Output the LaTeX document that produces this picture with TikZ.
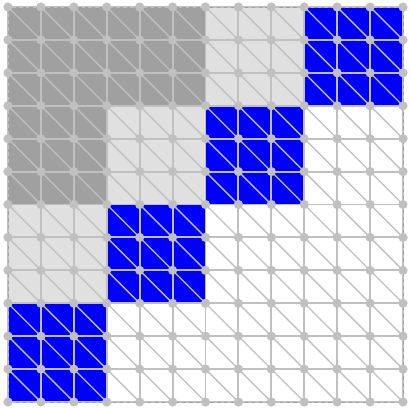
\documentclass[tikz,border=0pt]{standalone}
\usetikzlibrary{backgrounds}
\definecolor{meshline}{RGB}{192,192,192}
\definecolor{darkblock}{RGB}{160,160,160}
\definecolor{lightblock}{RGB}{224,224,224}
\definecolor{diagblock}{RGB}{0,0,255}
\tikzset{
  gridline/.style={draw=meshline,line width=1.7pt},
  diagline/.style={draw=meshline,line width=1.2pt},
  meshdot/.style={fill=meshline},
}
\begin{document}
\begin{tikzpicture}[x=1cm,y=1cm]
\useasboundingbox (-0.243,-0.152) rectangle (12.213,12.213);
% blocks
\fill[darkblock] (0,9) rectangle (6,12);
\fill[darkblock] (0,6) rectangle (3,9);
\fill[lightblock] (6,9) rectangle (9,12);
\fill[lightblock] (3,6) rectangle (6,9);
\fill[lightblock] (0,3) rectangle (3,6);
\foreach \b in {0,3,6,9}
  \fill[diagblock] (\b,\b) rectangle (\b+3,\b+3);
% mesh
\foreach \x in {0,...,11}
  \foreach \y in {0,...,11}
    \draw[diagline] (\x,\y+1) -- (\x+1,\y);
\foreach \k in {0,...,12} {
  \draw[gridline] (\k,0) -- (\k,12);
  \draw[gridline] (0,\k) -- (12,\k);
}
\draw[darkblock,line width=0.6pt,dashed] (0,0) rectangle (12,12);
\foreach \x in {0,...,12}
  \foreach \y in {0,...,12}
    \fill[meshdot] (\x,\y) circle (0.14);
\end{tikzpicture}
\end{document}
